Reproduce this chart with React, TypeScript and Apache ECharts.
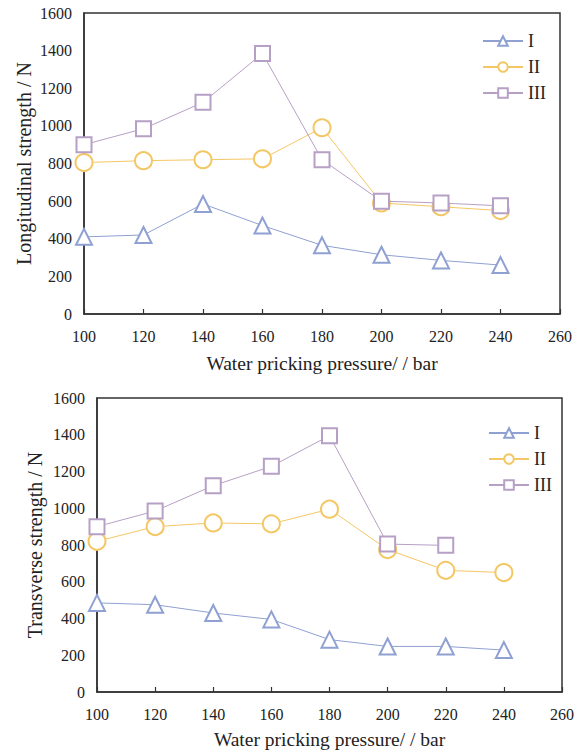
import React, { useEffect, useRef } from "react";
import * as echarts from "echarts";

const pressures = [100, 120, 140, 160, 180, 200, 220, 240];
const seriesNames = ["I", "II", "III"];
const longI = [410, 420, 585, 470, 365, 315, 285, 260];
const longII = [805, 815, 820, 825, 990, 590, 570, 550];
const longIII = [900, 985, 1125, 1385, 820, 600, 590, 575];
const transI = [485, 475, 430, 395, 285, 248, 248, 228];
const transII = [820, 900, 920, 915, 995, 775, 662, 650];
const transIII = [900, 985, 1123, 1228, 1395, 805, 798];

const colors = ["#8FA0D2", "#F4C765", "#B7A0C6"];
const symbols = ["emptyTriangle", "emptyCircle", "emptyRect"];
const symbolSizes = [16, 17, 15];
const FONT = "'Liberation Serif', 'Times New Roman', serif";

export default function App() {
  const ref = useRef<HTMLDivElement>(null);
  useEffect(() => {
    if (!ref.current) return;
    const chart = echarts.init(ref.current, undefined, { renderer: "svg" });
    const toPairs = (vals: number[]) => vals.map((v, i) => [pressures[i], v]);
    const mk = (name: string, idx: number, vals: number[], grid: number) => ({
      name,
      type: "line",
      xAxisIndex: grid,
      yAxisIndex: grid,
      data: toPairs(vals),
      symbol: symbols[idx],
      symbolSize: symbolSizes[idx],
      color: colors[idx],
      itemStyle: { color: colors[idx], borderWidth: 2.6 },
      lineStyle: { color: colors[idx], width: 1 },
      z: 3 + idx,
    });
    const xAxisBase = (gridIndex: number, gap: number) => ({
      type: "value",
      gridIndex,
      min: 100,
      max: 260,
      interval: 20,
      name: "Water pricking pressure/ / bar",
      nameLocation: "middle",
      nameGap: gap,
      nameTextStyle: { fontFamily: FONT, fontSize: 19.5, color: "#222" },
      axisLine: { show: true, lineStyle: { color: "#333", width: 1.5 } },
      axisTick: { show: true, inside: true, length: 5, lineStyle: { color: "#333", width: 1.2 } },
      axisLabel: { fontFamily: FONT, fontSize: 16, color: "#222", margin: 14 },
      splitLine: { show: false },
    });
    const yAxisBase = (gridIndex: number, name: string, gap: number) => ({
      type: "value",
      gridIndex,
      min: 0,
      max: 1600,
      interval: 200,
      name,
      nameLocation: "middle",
      nameGap: gap,
      nameMoveOverlap: false,
      nameTextStyle: { fontFamily: FONT, fontSize: 20, color: "#222" },
      axisLine: { show: true, lineStyle: { color: "#333", width: 1.5 } },
      axisTick: { show: false },
      axisLabel: {
        fontFamily: FONT,
        fontSize: 16,
        color: "#222",
        margin: 12,
        formatter: (v: number) => String(v),
      },
      splitLine: { show: false },
    });
    const legendBase = (id: string, left: number, top: number) => ({
      id,
      orient: "vertical",
      left,
      top,
      itemWidth: 40,
      itemHeight: 12,
      itemGap: 8,
      textStyle: { fontFamily: FONT, fontSize: 18, color: "#222" },
      data: seriesNames,
    });
    chart.setOption({
      animation: false,
      backgroundColor: "#fff",
      grid: [
        { left: 84, top: 13, width: 476, height: 301, show: true, borderColor: "#333", borderWidth: 1.5, backgroundColor: "transparent" },
        { left: 97, top: 398, width: 465, height: 294, show: true, borderColor: "#333", borderWidth: 1.5, backgroundColor: "transparent" },
      ],
      xAxis: [xAxisBase(0, 39), xAxisBase(1, 37)],
      yAxis: [
        yAxisBase(0, "Longitudinal strength / N", 50),
        yAxisBase(1, "Transverse strength / N", 52),
      ],
      legend: [legendBase("l1", 477, 27), legendBase("l2", 483, 419)],
      series: [
        mk("I", 0, longI, 0),
        mk("II", 1, longII, 0),
        mk("III", 2, longIII, 0),
        mk("I", 0, transI, 1),
        mk("II", 1, transII, 1),
        mk("III", 2, transIII, 1),
      ],
    });
    return () => chart.dispose();
  }, []);
  return (
    <div
      ref={ref}
      style={{ position: "fixed", left: 0, top: 0, width: 582, height: 753, background: "#fff" }}
    />
  );
}
